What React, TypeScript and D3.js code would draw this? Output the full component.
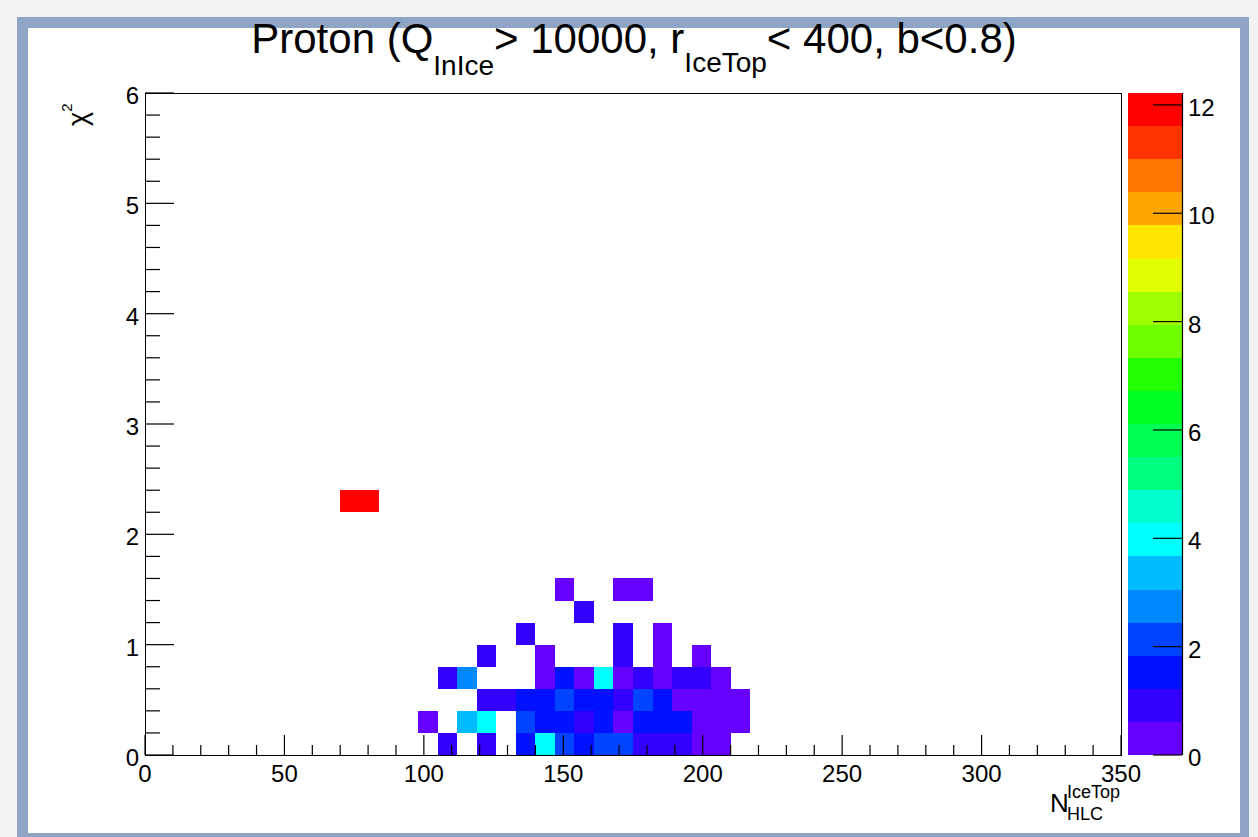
import React from "react";
import * as d3 from "d3";

// ---- data ----
const chi2RowLow = [0, 0.2, 0.4, 0.6, 0.8, 1.0, 1.2, 1.4, 2.2];
const nHlcRows = [
  [105, 119, 133, 140, 147, 154, 161, 168, 175, 182, 189, 196, 203],
  [98, 112, 119, 133, 140, 147, 154, 161, 168, 175, 182, 189, 196, 203, 210],
  [119, 126, 133, 140, 147, 154, 161, 168, 175, 182, 189, 196, 203, 210],
  [105, 112, 140, 147, 154, 161, 168, 175, 182, 189, 196, 203],
  [119, 140, 168, 182, 196],
  [133, 168, 182],
  [154],
  [147, 168, 175],
  [70, 77],
];
const countRows = [
  [1, 1, 1.5, 4, 2, 1.5, 2, 2, 1, 1, 1, 0.5, 0.5],
  [0.5, 3.5, 4, 2, 1.5, 1.5, 1, 1.5, 0.5, 1.5, 1.5, 1.5, 0.5, 0.5, 0.5],
  [1, 1, 1.5, 1.5, 2, 1.5, 1.5, 1, 2, 1.5, 0.5, 0.5, 0.5, 0.5],
  [1, 3, 0.5, 1.5, 0.5, 4, 0.5, 1, 0.5, 1, 1, 0.5],
  [1, 0.5, 1, 0.5, 0.5],
  [1, 1, 0.5],
  [1],
  [0.5, 0.5, 0.5],
  [12, 12],
];
const binWidthN = 7;
const binWidthChi2 = 0.2;
const zMax = 12.22;
const xTicks = [0, 50, 100, 150, 200, 250, 300, 350];
const yTicks = [0, 1, 2, 3, 4, 5, 6];
const zTicks = [0, 2, 4, 6, 8, 10, 12];
const palette = [
  "#6600ff", "#3300ff", "#0011ff", "#0044ff", "#0088ff", "#00bbff", "#00ffff",
  "#00ffcc", "#00ff80", "#00ff55", "#00ff22", "#22ff00", "#6fff00", "#a0ff00",
  "#e0ff00", "#ffe600", "#ffa500", "#ff7700", "#ff3300", "#ff0000",
];

const W = 1258;
const H = 837;
const FONT = "'Liberation Sans', Arial, Helvetica, sans-serif";

export default function App() {
  const left = 145, right = 1121, top = 93, bottom = 755;
  const palL = 1128, palR = 1182;
  const x = d3.scaleLinear().domain([0, 350]).range([left, right]);
  const y = d3.scaleLinear().domain([0, 6]).range([bottom, top]);
  const z = d3.scaleLinear().domain([0, zMax]).range([bottom, top]);
  const color = d3.scaleQuantize<string>().domain([0, zMax]).range(palette);

  const cells: { n: number; c: number; v: number }[] = [];
  chi2RowLow.forEach((c, i) => {
    nHlcRows[i].forEach((n, j) => cells.push({ n, c, v: countRows[i][j] }));
  });

  const xMinor = d3.range(0, 351, 10);
  const yMinor = d3.range(0, 6.001, 0.2);
  const bandStep = zMax / palette.length;

  return (
    <svg
      width={W}
      height={H}
      style={{ position: "absolute", left: 0, top: 0, display: "block" }}
      fontFamily={FONT}
    >
      <rect x={0} y={0} width={W} height={H} fill="#f3f3f3" />
      <rect x={17} y={17} width={1232} height={830} fill="#8fa5c6" />
      <rect x={28} y={28} width={1212} height={805} fill="#ffffff" />

      {/* title */}
      <text x={634} y={53} textAnchor="middle" fontSize={42} fill="#000">
        <tspan>Proton (Q</tspan>
        <tspan fontSize={28} dy={22}>InIce</tspan>
        <tspan dy={-22}>{"> 10000, r"}</tspan>
        <tspan fontSize={28} dy={19}>IceTop</tspan>
        <tspan dy={-19}>{"< 400, b<0.8)"}</tspan>
      </text>

      {/* cells */}
      <g shapeRendering="crispEdges">
        {cells.map((d, i) => (
          <rect
            key={i}
            x={x(d.n)}
            y={y(d.c + binWidthChi2)}
            width={x(d.n + binWidthN) - x(d.n)}
            height={y(d.c) - y(d.c + binWidthChi2)}
            fill={color(d.v)}
          />
        ))}
      </g>

      {/* frame */}
      <rect x={left + 0.5} y={top + 0.5} width={right - left} height={bottom - top} fill="none" stroke="#000" strokeWidth={1} />

      {/* x ticks */}
      {xMinor.map((t) => (
        <line key={"xm" + t} x1={x(t)} x2={x(t)} y1={bottom} y2={bottom - (t % 50 === 0 ? 20 : 10)} stroke="#000" strokeWidth={1.2} />
      ))}
      {xTicks.map((t) => (
        <text key={"xl" + t} x={x(t)} y={782} textAnchor="middle" fontSize={24}>{t}</text>
      ))}

      {/* y ticks */}
      {yMinor.map((t, i) => (
        <line key={"ym" + i} x1={left} x2={left + (i % 5 === 0 ? 29 : 15)} y1={y(t)} y2={y(t)} stroke="#000" strokeWidth={1.2} />
      ))}
      {yTicks.map((t) => (
        <text key={"yl" + t} x={139} y={y(t) + 11} textAnchor="end" fontSize={24}>{t}</text>
      ))}

      {/* axis titles */}
      <text transform="translate(87,126) rotate(-90)" fontSize={27}>
        <tspan>χ</tspan>
        <tspan fontSize={15} dy={-15}>2</tspan>
      </text>
      <text x={1050} y={812} fontSize={26}>N</text>
      <text x={1067} y={798} fontSize={18}>IceTop</text>
      <text x={1067} y={820} fontSize={18}>HLC</text>

      {/* palette */}
      <g shapeRendering="crispEdges">
        {palette.map((c, i) => (
          <rect
            key={"p" + i}
            x={palL}
            y={z((i + 1) * bandStep)}
            width={palR - palL}
            height={z(i * bandStep) - z((i + 1) * bandStep)}
            fill={c}
          />
        ))}
      </g>
      <line x1={palR + 0.5} x2={palR + 0.5} y1={top} y2={bottom} stroke="#000" strokeWidth={1.2} />
      {zTicks.map((t) => (
        <g key={"z" + t}>
          <line x1={palR - 29} x2={palR} y1={z(t)} y2={z(t)} stroke="#000" strokeWidth={1.2} />
          <text x={1188} y={z(t) + 11} fontSize={24}>{t}</text>
        </g>
      ))}
    </svg>
  );
}
